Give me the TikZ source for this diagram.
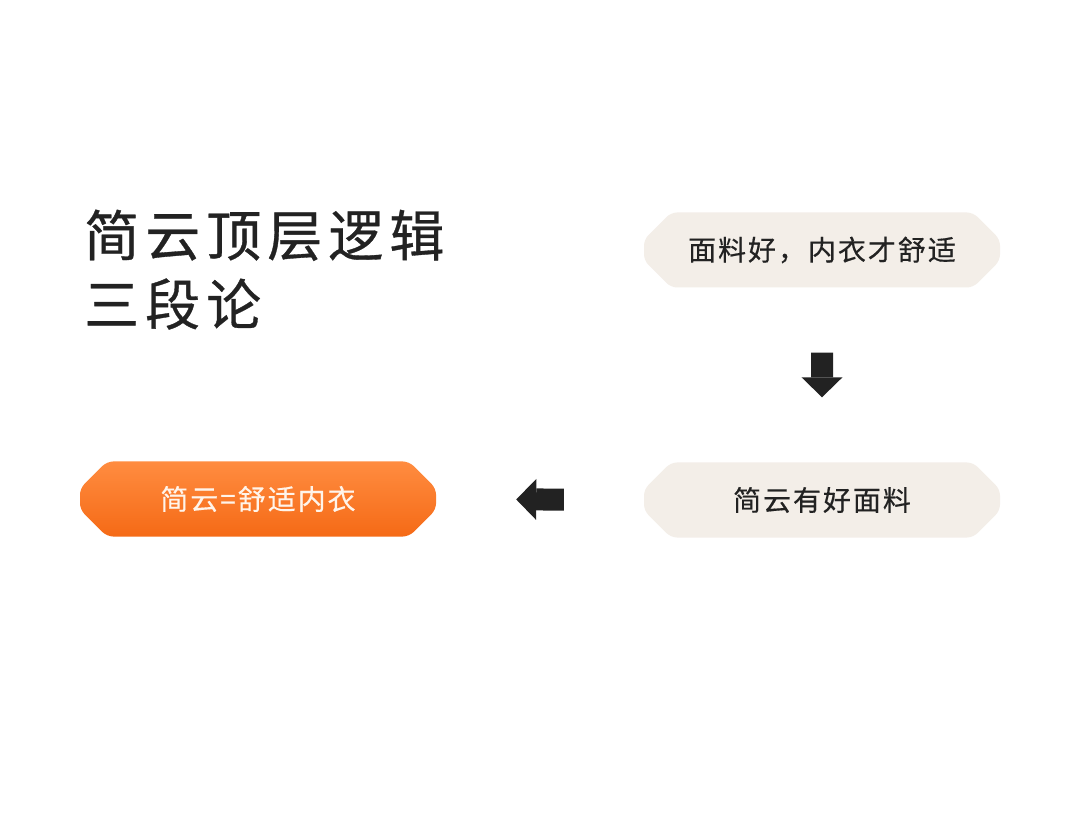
\documentclass[tikz,border=0pt]{standalone}
\usepackage{fontspec}
\usetikzlibrary{shapes.misc,positioning,arrows.meta}
\newfontfamily\cjk{Noto Sans CJK SC}
\definecolor{inkdark}{HTML}{222222}
\definecolor{boxbeige}{HTML}{F3EEE8}
\definecolor{orangetop}{HTML}{FF8C40}
\definecolor{orangebot}{HTML}{F56A16}
\definecolor{cream}{HTML}{FFF4EA}

\begin{document}
\begin{tikzpicture}[
    x=1pt, y=-1pt,
    titletext/.style={
        anchor=base west, inner sep=0pt, text=inkdark,
        font=\cjk\fontsize{55}{60}\selectfont\addfontfeatures{LetterSpace=11,FakeBold=0.6}
      },
    stepnode/.style={
        chamfered rectangle, chamfered rectangle xsep=13pt,
        chamfered rectangle ysep=14pt,
        rounded corners=6pt, minimum width=356pt, minimum height=75pt,
        inner sep=0pt,
        font=\cjk\fontsize{28}{30}\selectfont\addfontfeatures{LetterSpace=7,FakeBold=0.4}
      },
    premisenode/.style={
        stepnode, fill=boxbeige, text=inkdark
      },
    resultnode/.style={
        stepnode, top color=orangetop, bottom color=orangebot, draw=none,
        text=cream
      },
    bigarrow/.style={
        draw=inkdark, line width=22pt,
        -{Triangle[width=41pt,length=20pt,line width=0pt]}
      },
  ]
  \useasboundingbox[fill=white] (0,0) rectangle (1080,834);

  \node[titletext](title) at (84,256) {简云顶层逻辑};
  \node[titletext](subtitle) at (84,325) {三段论};

  \node[premisenode](major) at (822,250) {面料好，内衣才舒适};
  \node[premisenode](minor) at (822,500) {简云有好面料};
  \node[resultnode](result) at (258,499) {简云=舒适内衣};

  \draw[bigarrow, shorten <=65pt, shorten >=65pt] (major) -- (minor);
  \draw[bigarrow, shorten <=80pt, shorten >=80pt] (minor) -- (result);
\end{tikzpicture}
\end{document}
